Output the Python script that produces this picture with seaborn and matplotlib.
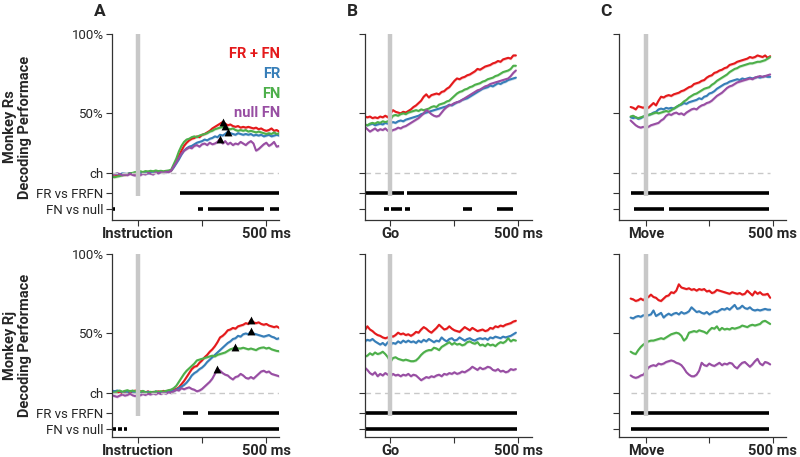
import numpy as np
import pandas as pd
import matplotlib.pyplot as plt
import seaborn as sns

# time axes (ms relative to event)
t_instr = np.arange(-100, 551, 10)
t_go = np.arange(-100, 491, 10)
t_move = np.arange(-60, 491, 10)

# ---- Monkey Rs ----
rs_instr_frfn = [10.5, 10.2, 10.8, 11.0, 11.5, 11.2, 11.8, 12.0, 12.3, 12.0,
                 12.8, 13.0, 12.6, 13.2, 12.9, 13.3, 13.0, 13.6, 13.2, 13.4,
                 13.0, 13.5, 13.4, 14.0, 16.5, 19.5, 23.0, 26.5, 29.5, 31.5,
                 33.0, 34.0, 34.5, 35.5, 35.0, 36.5, 37.0, 38.0, 39.0, 40.5,
                 41.5, 42.5, 43.5, 44.5, 43.5, 42.5, 43.0, 42.0, 41.5, 42.0,
                 41.0, 41.5, 41.0, 41.5, 41.0, 40.5, 41.0, 40.0, 40.5, 39.5,
                 39.0, 39.5, 40.5, 39.0, 39.5, 38.5]
rs_instr_fr = [11.5, 11.8, 12.0, 11.5, 12.2, 12.0, 11.8, 12.4, 12.0, 12.5,
               12.2, 12.8, 12.0, 12.5, 12.2, 12.8, 12.4, 13.0, 12.6, 13.2,
               12.8, 13.0, 13.4, 14.0, 16.0, 18.5, 21.0, 24.0, 26.5, 28.0,
               29.0, 29.5, 30.5, 31.5, 32.0, 32.5, 33.5, 33.0, 34.0, 34.5,
               35.5, 35.0, 36.5, 36.0, 37.0, 38.4, 37.5, 37.0, 36.5, 37.5,
               37.0, 36.5, 37.0, 36.5, 37.0, 36.0, 36.5, 36.0, 36.5, 35.5,
               36.0, 36.5, 35.5, 36.0, 36.5, 36.0]
rs_instr_fn = [10.0, 9.8, 10.2, 10.5, 11.0, 11.3, 11.8, 12.2, 12.5, 13.0,
               13.2, 13.5, 13.0, 13.6, 13.4, 13.8, 13.5, 14.0, 13.6, 13.8,
               13.5, 13.8, 14.0, 14.5, 18.0, 21.5, 26.0, 29.5, 32.0, 33.5,
               34.0, 35.0, 35.5, 35.0, 36.0, 36.5, 37.0, 37.5, 38.5, 39.0,
               40.0, 40.5, 41.0, 41.5, 42.3, 40.5, 40.0, 40.5, 39.5, 39.0,
               39.5, 39.0, 39.5, 38.5, 39.0, 38.5, 38.0, 38.5, 38.0, 37.5,
               37.0, 37.5, 37.0, 38.0, 37.0, 37.5]
rs_instr_null = [12.0, 11.5, 12.2, 11.8, 11.0, 11.5, 11.0, 12.0, 11.2, 10.8,
                 11.5, 11.0, 12.0, 11.5, 12.5, 12.0, 11.5, 12.8, 12.2, 13.0,
                 12.5, 13.2, 13.0, 14.0, 16.5, 19.0, 22.0, 24.5, 26.5, 27.5,
                 28.5, 28.0, 29.5, 30.0, 29.0, 30.5, 31.0, 30.0, 31.5, 30.5,
                 31.0, 32.0, 34.0, 31.0, 32.5, 30.5, 31.5, 30.0, 31.0, 30.5,
                 32.0, 31.0, 30.0, 31.5, 32.5, 31.0, 26.5, 27.5, 29.0, 30.5,
                 31.5, 29.5, 30.5, 32.0, 29.0, 29.5]

rs_go_frfn = [48.0, 47.5, 48.0, 47.0, 47.5, 47.0, 48.0, 47.5, 48.5, 47.5,
              50.0, 52.0, 51.0, 50.5, 50.0, 51.0, 50.5, 51.5, 52.5, 54.0,
              55.0, 56.5, 58.0, 60.5, 62.0, 60.0, 61.5, 62.0, 62.5, 62.0,
              63.5, 64.0, 65.5, 66.5, 68.5, 70.5, 72.0, 71.5, 72.5, 73.0,
              74.0, 74.5, 75.5, 76.5, 78.0, 77.5, 78.5, 79.5, 80.0, 80.5,
              81.5, 82.0, 83.0, 82.5, 84.0, 84.5, 85.0, 84.5, 86.5, 86.5]
rs_go_fr = [43.0, 42.5, 43.0, 43.5, 42.5, 43.0, 43.5, 43.0, 44.0, 43.5,
            44.0, 44.5, 44.0, 45.0, 45.5, 45.0, 46.0, 46.5, 47.0, 47.5,
            48.0, 48.5, 49.5, 50.0, 50.5, 51.0, 51.5, 52.0, 52.5, 53.0,
            53.5, 54.0, 54.5, 55.5, 55.0, 56.0, 57.0, 57.5, 58.5, 59.0,
            59.5, 60.5, 61.5, 62.5, 63.5, 64.5, 65.5, 66.0, 66.5, 67.5,
            67.0, 68.0, 69.0, 68.5, 69.5, 70.0, 71.0, 71.5, 72.0, 72.5]
rs_go_fn = [43.0, 42.5, 43.5, 44.0, 43.5, 44.5, 44.0, 45.0, 44.5, 45.0,
            46.0, 48.5, 49.0, 48.5, 49.5, 50.0, 49.5, 50.5, 51.0, 51.5,
            52.0, 51.5, 52.5, 52.0, 52.5, 53.0, 54.0, 54.5, 54.0, 55.5,
            56.0, 56.5, 57.5, 58.0, 59.5, 61.0, 62.5, 63.5, 64.0, 65.0,
            65.5, 66.5, 67.0, 68.0, 68.5, 69.0, 70.0, 70.5, 71.5, 72.0,
            72.5, 73.5, 74.0, 75.0, 76.0, 76.5, 77.0, 78.0, 80.0, 80.0]
rs_go_null = [41.5, 40.0, 38.5, 39.5, 40.5, 39.0, 40.0, 39.5, 40.5, 39.0,
              38.5, 39.5, 40.0, 41.0, 40.5, 41.5, 42.0, 43.0, 44.0, 45.0,
              46.0, 47.0, 48.5, 50.0, 52.0, 51.0, 49.5, 48.5, 48.0, 48.5,
              50.5, 52.5, 54.0, 55.0, 55.5, 56.5, 57.0, 57.5, 58.5, 59.5,
              60.5, 61.5, 62.5, 63.5, 64.5, 65.0, 66.0, 67.0, 67.5, 68.5,
              69.0, 69.5, 70.0, 70.5, 71.0, 71.5, 72.0, 73.5, 75.5, 77.0]

rs_move_frfn = [54.0, 53.5, 52.5, 54.5, 54.0, 53.5, 54.5, 53.5, 55.0, 56.5,
                55.0, 58.0, 60.5, 60.0, 61.0, 61.5, 61.0, 62.0, 62.5, 63.0,
                64.0, 64.5, 65.5, 66.5, 67.0, 68.5, 69.0, 69.5, 70.5, 71.0,
                72.5, 73.5, 74.0, 75.5, 76.0, 77.0, 77.5, 78.5, 79.0, 80.5,
                81.0, 81.5, 82.5, 83.0, 83.5, 84.0, 84.5, 85.5, 85.0, 85.5,
                86.5, 86.0, 85.5, 86.5, 85.0, 86.0]
rs_move_fr = [47.5, 47.0, 47.5, 46.5, 47.0, 48.0, 48.5, 49.0, 49.5, 50.5,
              51.0, 52.5, 53.0, 52.5, 53.5, 53.0, 53.5, 53.0, 54.0, 55.0,
              55.5, 56.5, 56.0, 57.0, 57.5, 58.0, 58.5, 59.5, 59.0, 60.5,
              61.0, 62.5, 63.0, 64.0, 65.5, 66.5, 67.5, 68.5, 69.0, 70.0,
              70.5, 71.0, 71.5, 71.0, 72.0, 71.5, 72.0, 72.5, 72.0, 72.5,
              73.0, 72.5, 73.0, 73.5, 73.0, 73.0]
rs_move_fn = [48.0, 48.5, 47.5, 47.0, 47.5, 48.0, 48.5, 49.0, 49.5, 50.0,
              50.5, 50.0, 50.5, 51.0, 51.5, 51.0, 52.0, 53.0, 54.0, 55.0,
              56.0, 57.5, 58.5, 60.0, 61.0, 62.0, 62.5, 63.5, 64.5, 65.5,
              66.0, 66.5, 68.0, 69.0, 70.5, 71.5, 72.5, 73.5, 74.5, 76.0,
              77.0, 78.0, 78.5, 79.5, 80.0, 80.5, 81.0, 81.5, 81.5, 82.0,
              82.5, 82.5, 83.0, 83.5, 84.5, 85.5]
rs_move_null = [45.5, 44.0, 42.5, 41.5, 41.0, 41.5, 41.0, 41.5, 42.5, 43.0,
                43.5, 44.0, 45.5, 46.5, 48.5, 49.5, 49.0, 50.0, 50.5, 49.5,
                50.0, 49.0, 50.5, 51.5, 52.5, 53.0, 52.5, 54.0, 55.0, 55.5,
                56.5, 57.0, 58.0, 59.5, 61.0, 62.0, 63.0, 64.5, 66.0, 67.0,
                67.5, 68.5, 69.5, 70.0, 70.5, 71.0, 71.5, 72.0, 71.5, 72.5,
                73.0, 73.5, 73.0, 73.5, 74.0, 74.5]

# ---- Monkey Rj ----
rj_instr_frfn = [13.0, 13.5, 12.8, 13.2, 12.5, 13.0, 12.8, 13.5, 13.0, 14.0,
                 13.2, 13.6, 13.0, 12.8, 13.5, 12.6, 13.2, 12.8, 13.5, 13.0,
                 13.8, 13.2, 14.0, 13.5, 14.5, 15.0, 16.0, 18.0, 20.0, 22.5,
                 25.0, 27.5, 29.0, 29.5, 31.5, 33.0, 35.0, 36.5, 38.5, 40.0,
                 42.0, 44.5, 47.5, 48.5, 50.0, 52.0, 52.5, 53.5, 53.0, 54.5,
                 55.0, 55.5, 56.5, 56.0, 58.5, 57.0, 56.5, 57.0, 56.0, 55.5,
                 56.0, 55.0, 54.5, 54.0, 54.5, 53.5]
rj_instr_fr = [14.0, 13.5, 14.0, 13.6, 13.0, 13.5, 13.0, 13.8, 13.2, 13.0,
               13.6, 13.0, 13.5, 12.8, 13.2, 13.0, 12.6, 13.4, 13.0, 12.6,
               13.2, 12.8, 13.4, 14.0, 13.8, 14.5, 15.5, 16.5, 17.5, 19.0,
               21.0, 23.5, 25.0, 26.0, 27.5, 28.5, 30.0, 32.0, 33.5, 35.0,
               36.5, 38.0, 39.5, 41.0, 42.5, 44.0, 45.0, 46.5, 47.0, 48.5,
               48.0, 49.5, 50.0, 49.5, 51.3, 50.0, 49.5, 49.0, 48.5, 48.0,
               48.5, 49.0, 48.0, 47.5, 46.5, 47.0]
rj_instr_fn = [13.0, 12.5, 13.5, 14.0, 13.2, 13.8, 14.2, 13.5, 14.0, 13.5,
               14.0, 13.2, 13.8, 13.0, 12.5, 13.2, 12.8, 13.5, 13.0, 13.6,
               13.2, 13.8, 14.2, 14.6, 15.5, 17.0, 19.5, 22.0, 24.5, 26.5,
               28.0, 29.5, 31.0, 33.0, 33.5, 34.0, 34.5, 35.0, 35.5, 36.0,
               35.5, 36.5, 37.0, 37.5, 38.0, 39.0, 40.0, 40.5, 41.4, 40.5,
               40.5, 41.0, 40.5, 40.0, 40.5, 40.0, 39.5, 40.5, 41.0, 41.2,
               40.5, 41.0, 40.0, 39.5, 39.0, 38.8]
rj_instr_null = [11.0, 10.5, 10.0, 10.8, 11.5, 10.8, 11.2, 12.0, 11.0, 10.5,
                 11.2, 11.0, 11.8, 11.2, 12.0, 11.5, 12.2, 11.6, 12.5, 11.8,
                 12.6, 12.0, 13.0, 12.4, 13.5, 14.5, 14.0, 15.5, 14.8, 15.5,
                 16.0, 15.0, 14.5, 13.5, 14.0, 15.0, 16.5, 18.0, 19.5, 21.5,
                 24.5, 27.5, 26.5, 25.0, 24.0, 23.5, 22.0, 21.0, 22.5, 23.0,
                 24.5, 23.5, 22.0, 21.5, 22.5, 21.5, 23.0, 24.5, 26.0, 26.5,
                 25.5, 26.0, 24.5, 24.0, 23.5, 23.0]

rj_go_frfn = [52.0, 54.5, 52.5, 51.5, 50.0, 49.0, 48.5, 47.5, 47.0, 47.5,
              48.5, 48.0, 49.0, 50.5, 49.5, 50.0, 49.0, 49.5, 48.5, 49.5,
              51.0, 50.5, 52.5, 54.0, 53.0, 51.5, 50.5, 52.0, 53.5, 55.5,
              54.0, 52.5, 53.0, 54.5, 53.0, 52.0, 51.5, 51.0, 52.5, 54.0,
              53.0, 52.0, 53.5, 52.5, 51.5, 52.0, 52.5, 51.5, 52.0, 53.5,
              53.0, 54.5, 54.0, 55.0, 54.5, 55.5, 56.0, 56.5, 57.5, 58.0]
rj_go_fr = [45.0, 46.0, 45.5, 46.5, 45.0, 44.0, 43.0, 44.0, 42.5, 44.5,
            43.0, 44.0, 43.5, 45.0, 44.0, 45.5, 44.5, 45.5, 44.5, 45.0,
            44.0, 45.5, 44.5, 46.0, 45.0, 46.5, 45.5, 44.5, 45.5, 45.0,
            47.5, 46.0, 45.0, 46.5, 47.0, 45.5, 46.0, 47.5, 46.5, 45.5,
            46.5, 47.0, 46.0, 45.5, 46.5, 47.0, 46.5, 47.0, 46.0, 47.5,
            47.0, 48.0, 47.5, 47.0, 48.0, 47.5, 48.0, 48.5, 49.5, 50.5]
rj_go_fn = [35.5, 36.0, 37.5, 36.5, 38.0, 37.0, 37.5, 38.5, 37.0, 35.0,
            32.0, 34.5, 35.0, 34.0, 33.5, 33.0, 33.5, 33.0, 32.5, 32.5,
            33.0, 34.5, 36.5, 38.0, 39.0, 39.5, 39.5, 41.0, 40.5, 39.5,
            41.5, 42.5, 43.5, 44.5, 43.0, 44.0, 43.0, 43.5, 42.5, 43.0,
            44.5, 45.0, 44.0, 43.5, 44.5, 42.5, 43.0, 42.0, 43.5, 42.5,
            43.0, 42.0, 43.5, 44.5, 44.0, 45.0, 47.0, 45.0, 46.0, 45.5]
rj_go_null = [28.5, 27.0, 25.0, 24.0, 25.5, 23.0, 24.5, 23.5, 25.0, 24.0,
              23.0, 24.5, 23.5, 24.0, 23.0, 24.0, 23.5, 24.5, 23.0, 24.0,
              23.5, 22.0, 20.5, 21.5, 22.5, 22.0, 23.0, 22.5, 23.5, 24.0,
              23.0, 24.5, 24.0, 25.0, 24.5, 25.5, 24.5, 25.0, 26.0, 25.5,
              26.5, 27.5, 29.0, 28.0, 27.0, 28.5, 27.5, 28.0, 29.0, 28.5,
              27.0, 26.5, 27.5, 26.0, 26.5, 25.5, 26.0, 27.5, 27.0, 27.5]

rj_move_frfn = [72.0, 71.5, 70.5, 71.0, 72.0, 71.0, 72.5, 73.0, 74.5, 73.0,
                72.5, 71.0, 70.5, 72.0, 73.5, 74.0, 76.0, 75.5, 77.0, 81.0,
                79.0, 78.5, 78.0, 78.5, 77.5, 78.0, 77.0, 78.0, 77.5, 78.0,
                76.5, 77.0, 75.5, 76.0, 77.5, 77.0, 76.5, 76.0, 75.5, 75.0,
                76.0, 75.5, 75.0, 75.5, 74.5, 75.0, 77.0, 75.5, 74.0, 76.5,
                75.0, 76.0, 74.5, 74.5, 75.0, 72.5]
rj_move_fr = [60.0, 59.5, 60.5, 61.0, 60.5, 61.5, 61.0, 61.5, 62.0, 64.5,
              61.0, 62.0, 63.0, 60.0, 61.5, 62.5, 61.5, 62.5, 63.0, 62.0,
              63.5, 62.5, 63.0, 64.0, 66.5, 65.0, 63.5, 64.0, 63.0, 62.5,
              63.5, 62.0, 63.0, 64.0, 63.5, 64.5, 65.5, 65.0, 66.0, 65.0,
              66.5, 68.0, 65.5, 66.0, 67.5, 66.0, 65.5, 66.5, 65.0, 64.5,
              65.0, 64.5, 65.0, 65.5, 65.0, 65.0]
rj_move_fn = [38.5, 37.5, 37.0, 39.5, 41.5, 43.0, 44.0, 45.0, 45.5, 45.5,
              46.0, 46.5, 47.0, 46.5, 47.5, 48.5, 49.5, 50.0, 50.5, 50.0,
              48.5, 45.5, 47.0, 50.5, 51.0, 51.5, 51.0, 52.0, 51.5, 51.0,
              50.0, 52.0, 53.5, 53.0, 54.5, 52.0, 53.5, 52.5, 53.0, 52.5,
              53.5, 53.0, 53.5, 54.0, 55.0, 54.5, 54.0, 55.0, 55.5, 55.0,
              55.5, 56.0, 57.5, 58.0, 57.0, 56.0]
rj_move_null = [23.5, 22.5, 22.0, 22.5, 23.5, 24.0, 26.0, 28.5, 29.5, 30.0,
                29.5, 31.0, 30.5, 31.0, 32.0, 32.5, 33.0, 32.5, 31.5, 31.0,
                30.0, 28.0, 25.5, 24.0, 23.0, 23.0, 24.0, 26.5, 31.5, 30.0,
                29.5, 31.0, 30.0, 29.5, 30.5, 31.5, 30.0, 31.0, 30.5, 31.5,
                31.0, 29.0, 28.0, 30.0, 31.5, 32.0, 30.5, 29.0, 30.5, 32.5,
                34.0, 31.0, 30.0, 32.0, 31.5, 30.5]

# significance segments (start ms, end ms)
rs_instr_sig_fr = [(164, 550)]
rs_instr_sig_null = [(-100, -90), (234, 254), (273, 492), (516, 550)]
rs_go_sig_fr = [(-100, 53), (66, 494)]
rs_go_sig_null = [(-25, -5), (4, 47), (56, 78), (285, 318), (415, 477)]
rs_move_sig_fr = [(-58, 487)]
rs_move_sig_null = [(-47, 73), (93, 487)]
rj_instr_sig_fr = [(176, 234), (273, 550)]
rj_instr_sig_null = [(-98, -84), (-76, -62), (-54, -40), (164, 550)]
rj_go_sig_fr = [(-100, 494)]
rj_go_sig_null = [(-100, 494)]
rj_move_sig_fr = [(-58, 487)]
rj_move_sig_null = [(-58, 487)]

series_names = ['FR + FN', 'FR', 'FN', 'null FN']
colors = ['#e41a1c', '#377eb8', '#4daf4a', '#984ea3']
event_labels = ['Instruction', 'Go', 'Move']
monkeys = ['Monkey Rs', 'Monkey Rj']
chance = 12.5

panels = [
    [(t_instr, [rs_instr_frfn, rs_instr_fr, rs_instr_fn, rs_instr_null], rs_instr_sig_fr, rs_instr_sig_null),
     (t_go, [rs_go_frfn, rs_go_fr, rs_go_fn, rs_go_null], rs_go_sig_fr, rs_go_sig_null),
     (t_move, [rs_move_frfn, rs_move_fr, rs_move_fn, rs_move_null], rs_move_sig_fr, rs_move_sig_null)],
    [(t_instr, [rj_instr_frfn, rj_instr_fr, rj_instr_fn, rj_instr_null], rj_instr_sig_fr, rj_instr_sig_null),
     (t_go, [rj_go_frfn, rj_go_fr, rj_go_fn, rj_go_null], rj_go_sig_fr, rj_go_sig_null),
     (t_move, [rj_move_frfn, rj_move_fr, rj_move_fn, rj_move_null], rj_move_sig_fr, rj_move_sig_null)],
]

sns.set_theme(style='ticks')
plt.rcParams['font.family'] = ['Roboto', 'DejaVu Sans']

fig = plt.figure(figsize=(8, 4.57), dpi=100)

col_left = [0.140, 0.456, 0.774]
col_width = 0.209
row_box = [(0.5186, 0.407, (-17.2, 100)), (0.0438, 0.400, (-15.3, 100))]
xlims = [(-100, 550), (-100, 553), (-105, 554)]

for r in range(2):
    bottom, height, ylim = row_box[r]
    for c in range(3):
        t, curves, sig_fr, sig_null = panels[r][c]
        ax = fig.add_axes([col_left[c], bottom, col_width, height])

        df = pd.DataFrame({
            't': np.tile(t, 4),
            'acc': np.concatenate(curves),
            'decoder': np.repeat(series_names, len(t)),
        })
        for name, col, vals in zip(series_names, colors, curves):
            ax.fill_between(t, np.array(vals) - 0.8, np.array(vals) + 0.8,
                            color=col, alpha=0.25, lw=0)
        sns.lineplot(data=df, x='t', y='acc', hue='decoder', palette=colors,
                     hue_order=series_names, legend=False, ax=ax, lw=1.5)

        # chance line
        ax.hlines(chance, t[0], t[-1], colors='#c8c8c8', lw=1, linestyles=(0, (4, 3)))
        # event marker
        ax.vlines(0, -2, 100, colors='#c8c8c8', lw=3.2, zorder=5)
        # significance bars
        for s, e in sig_fr:
            ax.hlines(0, s, e, colors='black', lw=2.6)
        for s, e in sig_null:
            ax.hlines(-10, s, e, colors='black', lw=2.6)

        # peak markers on instruction panels
        if c == 0:
            for vals in curves:
                i = int(np.argmax(vals))
                ax.scatter(t[i], vals[i], marker='^', s=32, color='black', zorder=6, lw=0)

        ax.set_xlim(*xlims[c])
        ax.set_ylim(*ylim)
        ax.set_xticks([0, 250, 500])
        ax.set_xticklabels([event_labels[c], '', '500 ms'], fontweight='bold', fontsize=10.5)
        ax.set_yticks([100, 50, chance, 0, -10])
        if c == 0:
            ax.set_yticklabels(['100%', '50%', 'ch', 'FR vs FRFN', 'FN vs null'], fontsize=9.5)
            ax.set_ylabel(monkeys[r] + '\nDecoding Performace', fontweight='bold',
                          fontsize=10.5, labelpad=3, linespacing=1.1)
        else:
            ax.set_yticklabels([])
            ax.set_ylabel('')
        ax.set_xlabel('')
        ax.tick_params(axis='both', length=4, width=0.8, color='#333333', pad=2)
        ax.tick_params(axis='x', pad=1)
        for sp in ['left', 'bottom']:
            ax.spines[sp].set_color('#333333')
            ax.spines[sp].set_linewidth(0.9)
        sns.despine(ax=ax)

        if r == 0 and c == 0:
            for k, (name, col) in enumerate(zip(series_names, colors)):
                ax.text(1.006, 0.892 - k * 0.106, name, color=col, fontsize=10.5,
                        fontweight='bold', ha='right', va='center', transform=ax.transAxes)

for x, letter in zip([0.125, 0.441, 0.7575], ['A', 'B', 'C']):
    fig.text(x, 0.975, letter, fontsize=12.5, fontweight='bold', ha='center', va='center')

fig.savefig('out.png', dpi=100)
